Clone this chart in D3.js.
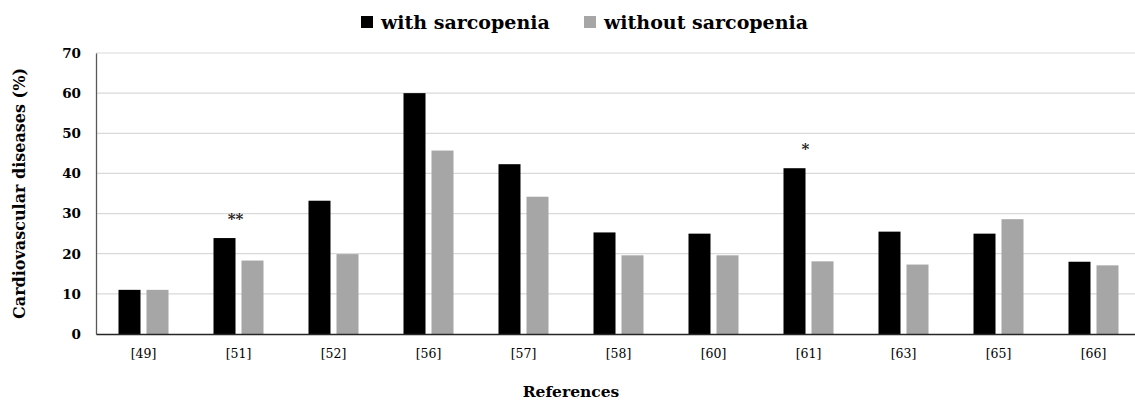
<!DOCTYPE html>
<html>
<head>
<meta charset="utf-8">
<script src="https://cdn.jsdelivr.net/npm/d3@7"></script>
<style>
  body { margin: 0; background: #fff; }
  svg { display: block; }
</style>
</head>
<body>
<svg id="chart"></svg>
<script>
const references = ["[49]", "[51]", "[52]", "[56]", "[57]", "[58]", "[60]", "[61]", "[63]", "[65]", "[66]"];
const withSarcopenia = [11, 23.9, 33.2, 60, 42.3, 25.3, 25, 41.3, 25.5, 25, 18];
const withoutSarcopenia = [11, 18.3, 19.9, 45.7, 34.2, 19.6, 19.6, 18.1, 17.3, 28.6, 17.1];
const significance = ["", "**", "", "", "", "", "", "*", "", "", ""];
const yTicks = [0, 10, 20, 30, 40, 50, 60, 70];
const seriesNames = ["with sarcopenia", "without sarcopenia"];

const width = 1135, height = 401;
const margin = { top: 53, right: -6, bottom: 67, left: 96 };
const colors = ["#000000", "#a6a6a6"];
const serif = "'DejaVu Serif', 'Liberation Serif', serif";

const svg = d3.select("#chart").attr("width", width).attr("height", height);

const x = d3.scaleBand()
    .domain(references)
    .range([margin.left, width - margin.right]);

const y = d3.scaleLinear()
    .domain([0, 70])
    .range([height - margin.bottom, margin.top]);

const barW = 22, gap = 6;

// gridlines
svg.append("g")
    .selectAll("line")
    .data(yTicks.slice(1))
    .join("line")
    .attr("x1", margin.left)
    .attr("x2", width)
    .attr("y1", d => y(d))
    .attr("y2", d => y(d))
    .attr("stroke", "#d9d9d9")
    .attr("stroke-width", 1.2);

// y axis
const yAxis = g => {
    g.attr("transform", `translate(${margin.left},0)`)
        .call(d3.axisLeft(y).tickValues(yTicks).tickSize(0).tickPadding(15))
        .call(g => g.select(".domain").attr("stroke", "#595959").attr("stroke-width", 1.3))
        .call(g => g.selectAll(".tick text")
            .style("font-family", serif)
            .attr("font-size", 13.5)
            .attr("font-weight", "bold")
            .attr("fill", "#000"));
};
svg.append("g").call(yAxis);

// bars
const data = references.map((r, i) => ({ ref: r, vals: [withSarcopenia[i], withoutSarcopenia[i]], sig: significance[i] }));

const groups = svg.append("g")
    .selectAll("g")
    .data(data)
    .join("g")
    .attr("transform", d => `translate(${x(d.ref) + x.bandwidth() / 2},0)`);

groups.selectAll("rect")
    .data(d => d.vals)
    .join("rect")
    .attr("x", (d, i) => i === 0 ? -barW - gap / 2 : gap / 2)
    .attr("width", barW)
    .attr("y", d => y(d))
    .attr("height", d => y(0) - y(d))
    .attr("fill", (d, i) => colors[i]);

// significance marks
groups.append("text")
    .attr("x", -3)
    .attr("y", d => y(d.vals[0]) - 14)
    .attr("text-anchor", "middle")
    .style("font-family", serif)
    .attr("font-size", 15)
    .attr("font-weight", "bold")
    .attr("fill", "#222")
    .text(d => d.sig);

// x axis
const xAxis = g => {
    g.attr("transform", `translate(0,${y(0)})`)
        .call(d3.axisBottom(x).tickSize(0).tickPadding(15))
        .call(g => g.select(".domain").attr("stroke", "#262626").attr("stroke-width", 1.5))
        .call(g => g.selectAll(".tick text")
            .style("font-family", serif)
            .attr("font-size", 12.5)
            .attr("fill", "#000"));
};
svg.append("g").call(xAxis);

// axis titles
svg.append("text")
    .attr("transform", `translate(25,${(y(0) + y(70)) / 2}) rotate(-90)`)
    .attr("text-anchor", "middle")
    .style("font-family", serif)
    .attr("font-size", 16)
    .attr("font-weight", "bold")
    .text("Cardiovascular diseases (%)");

svg.append("text")
    .attr("x", 571)
    .attr("y", 397)
    .attr("text-anchor", "middle")
    .style("font-family", serif)
    .attr("font-size", 15.5)
    .attr("font-weight", "bold")
    .text("References");

// legend
const legendX = [361, 584];
const legend = svg.append("g")
    .selectAll("g")
    .data(seriesNames)
    .join("g")
    .attr("transform", (d, i) => `translate(${legendX[i]},13)`);

legend.append("rect")
    .attr("width", 12)
    .attr("height", 12)
    .attr("y", 3)
    .attr("fill", (d, i) => colors[i]);

legend.append("text")
    .attr("x", 20)
    .attr("y", 16)
    .style("font-family", serif)
    .attr("font-size", 19)
    .attr("font-weight", "bold")
    .text(d => d);
</script>
</body>
</html>
